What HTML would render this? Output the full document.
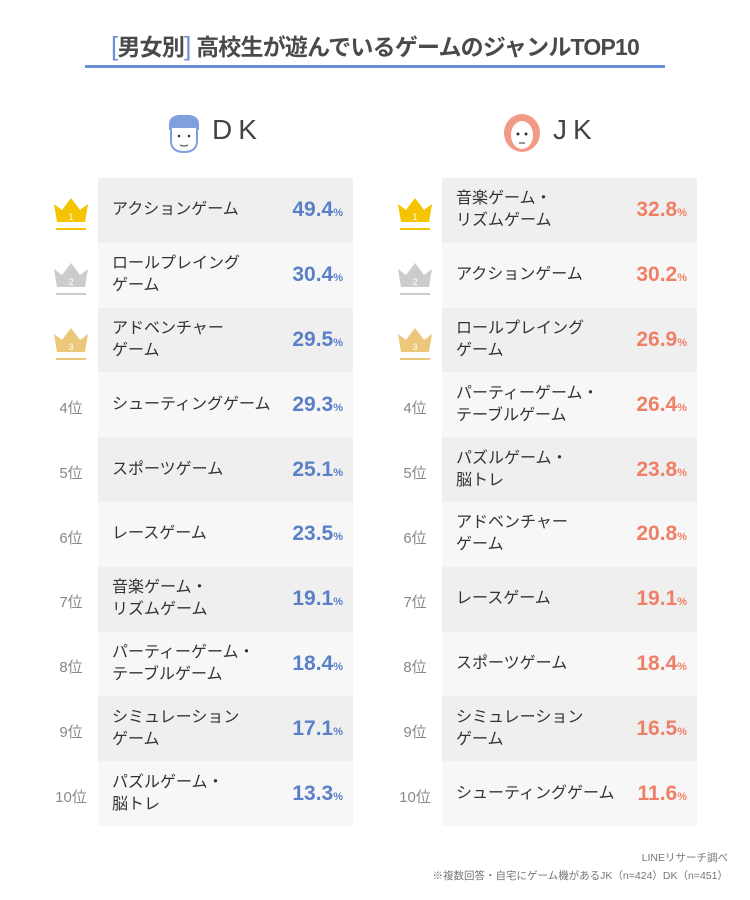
<!DOCTYPE html>
<html><head><meta charset="utf-8"><style>
body{margin:0;width:750px;height:900px;background:#fff;font-family:"Liberation Sans","Noto Sans CJK JP",sans-serif;color:#444;position:relative;overflow:hidden}
.t{position:absolute;left:0;width:750px;top:28px;text-align:center;font-size:23px;font-weight:bold;color:#4a4a4a;letter-spacing:-0.8px}
.t b{color:#6a8fd3;font-weight:normal;font-size:26px}
.line{position:absolute;left:85px;top:65px;width:580px;height:3px;background:#6a8fd3}
.hd{position:absolute;top:114px;font-size:28px;color:#444;letter-spacing:6px}
.panel{position:absolute;top:178px;width:255px}
.row{height:64.8px;position:relative}
.row:nth-child(odd){background:#efefef}.row:nth-child(even){background:#f7f7f7}
.nm{position:absolute;left:14px;top:50%;transform:translateY(-50%);font-size:16px;line-height:22px;color:#333}
.v{position:absolute;right:10px;top:50%;transform:translateY(-50%);font-size:21px;font-weight:bold}
.v small{font-size:11px}
.dk .v{color:#5b80c8}.jk .v{color:#ef8068}
.rk{position:absolute;width:50px;text-align:center;font-size:15px;color:#888}
.ft{position:absolute;right:22px;font-size:10.5px;color:#777;text-align:right}
</style></head><body>
<div class="t"><b>[</b>男女別<b>]</b> 高校生が遊んでいるゲームのジャンルTOP10</div>
<div class="line"></div>
<svg style="position:absolute;left:164px;top:112px" width="40" height="42"><path d="M5 14 Q4 2 20 3 Q36 2 35 14 L35 18 L5 18Z" fill="#7fa0dc"/><path d="M7 16 L7 30 Q8 40 20 40 Q32 40 33 30 L33 16" fill="#fff" stroke="#7fa0dc" stroke-width="2"/><circle cx="15" cy="24" r="1.3" fill="#333"/><circle cx="25" cy="24" r="1.3" fill="#333"/><path d="M16 33 Q20 35 24 33" stroke="#333" fill="none"/></svg>
<div class="hd" style="left:212px">DK</div>
<svg style="position:absolute;left:502px;top:112px" width="40" height="42"><ellipse cx="20" cy="21" rx="18" ry="19" fill="#f29a85"/><ellipse cx="20" cy="23" rx="11" ry="14" fill="#fff"/><circle cx="16" cy="22" r="1.5" fill="#333"/><circle cx="24" cy="22" r="1.5" fill="#333"/><path d="M17 31 L23 31" stroke="#333"/></svg>
<div class="hd" style="left:553px">JK</div>

<svg style="position:absolute;left:0;top:0" width="750" height="900">
<defs><path id="cr" d="M0 10 L8 16 L17 4 L26 16 L34 10 L31 28 L3 28Z"/></defs>
<g fill="#f5c400"><use href="#cr" x="54" y="194"/><rect x="56" y="228" width="30" height="2"/><use href="#cr" x="398" y="194"/><rect x="400" y="228" width="30" height="2"/></g>
<g fill="#cccccc"><use href="#cr" x="54" y="259"/><rect x="56" y="293" width="30" height="2"/><use href="#cr" x="398" y="259"/><rect x="400" y="293" width="30" height="2"/></g>
<g fill="#ecc77a"><use href="#cr" x="54" y="324"/><rect x="56" y="358" width="30" height="2"/><use href="#cr" x="398" y="324"/><rect x="400" y="358" width="30" height="2"/></g>
<g fill="#fff" font-size="9" text-anchor="middle" font-family="Liberation Sans"><text x="71" y="220">1</text><text x="415" y="220">1</text><text x="71" y="285">2</text><text x="415" y="285">2</text><text x="71" y="350">3</text><text x="415" y="350">3</text></g>
</svg>
<div class="rk" style="left:46px;top:397px">4位</div><div class="rk" style="left:46px;top:462px">5位</div><div class="rk" style="left:46px;top:527px">6位</div><div class="rk" style="left:46px;top:591px">7位</div><div class="rk" style="left:46px;top:656px">8位</div><div class="rk" style="left:46px;top:721px">9位</div><div class="rk" style="left:46px;top:786px">10位</div>
<div class="rk" style="left:390px;top:397px">4位</div><div class="rk" style="left:390px;top:462px">5位</div><div class="rk" style="left:390px;top:527px">6位</div><div class="rk" style="left:390px;top:591px">7位</div><div class="rk" style="left:390px;top:656px">8位</div><div class="rk" style="left:390px;top:721px">9位</div><div class="rk" style="left:390px;top:786px">10位</div>

<div class="panel dk" style="left:98px">
<div class="row"><div class="nm">アクションゲーム</div><div class="v">49.4<small>%</small></div></div>
<div class="row"><div class="nm">ロールプレイング<br>ゲーム</div><div class="v">30.4<small>%</small></div></div>
<div class="row"><div class="nm">アドベンチャー<br>ゲーム</div><div class="v">29.5<small>%</small></div></div>
<div class="row"><div class="nm">シューティングゲーム</div><div class="v">29.3<small>%</small></div></div>
<div class="row"><div class="nm">スポーツゲーム</div><div class="v">25.1<small>%</small></div></div>
<div class="row"><div class="nm">レースゲーム</div><div class="v">23.5<small>%</small></div></div>
<div class="row"><div class="nm">音楽ゲーム・<br>リズムゲーム</div><div class="v">19.1<small>%</small></div></div>
<div class="row"><div class="nm">パーティーゲーム・<br>テーブルゲーム</div><div class="v">18.4<small>%</small></div></div>
<div class="row"><div class="nm">シミュレーション<br>ゲーム</div><div class="v">17.1<small>%</small></div></div>
<div class="row"><div class="nm">パズルゲーム・<br>脳トレ</div><div class="v">13.3<small>%</small></div></div>
</div>
<div class="panel jk" style="left:442px">
<div class="row"><div class="nm">音楽ゲーム・<br>リズムゲーム</div><div class="v">32.8<small>%</small></div></div>
<div class="row"><div class="nm">アクションゲーム</div><div class="v">30.2<small>%</small></div></div>
<div class="row"><div class="nm">ロールプレイング<br>ゲーム</div><div class="v">26.9<small>%</small></div></div>
<div class="row"><div class="nm">パーティーゲーム・<br>テーブルゲーム</div><div class="v">26.4<small>%</small></div></div>
<div class="row"><div class="nm">パズルゲーム・<br>脳トレ</div><div class="v">23.8<small>%</small></div></div>
<div class="row"><div class="nm">アドベンチャー<br>ゲーム</div><div class="v">20.8<small>%</small></div></div>
<div class="row"><div class="nm">レースゲーム</div><div class="v">19.1<small>%</small></div></div>
<div class="row"><div class="nm">スポーツゲーム</div><div class="v">18.4<small>%</small></div></div>
<div class="row"><div class="nm">シミュレーション<br>ゲーム</div><div class="v">16.5<small>%</small></div></div>
<div class="row"><div class="nm">シューティングゲーム</div><div class="v">11.6<small>%</small></div></div>
</div>
<div class="ft" style="top:850px">LINEリサーチ調べ</div>
<div class="ft" style="top:868px">※複数回答・自宅にゲーム機があるJK（n=424）DK（n=451）</div>
</body></html>
